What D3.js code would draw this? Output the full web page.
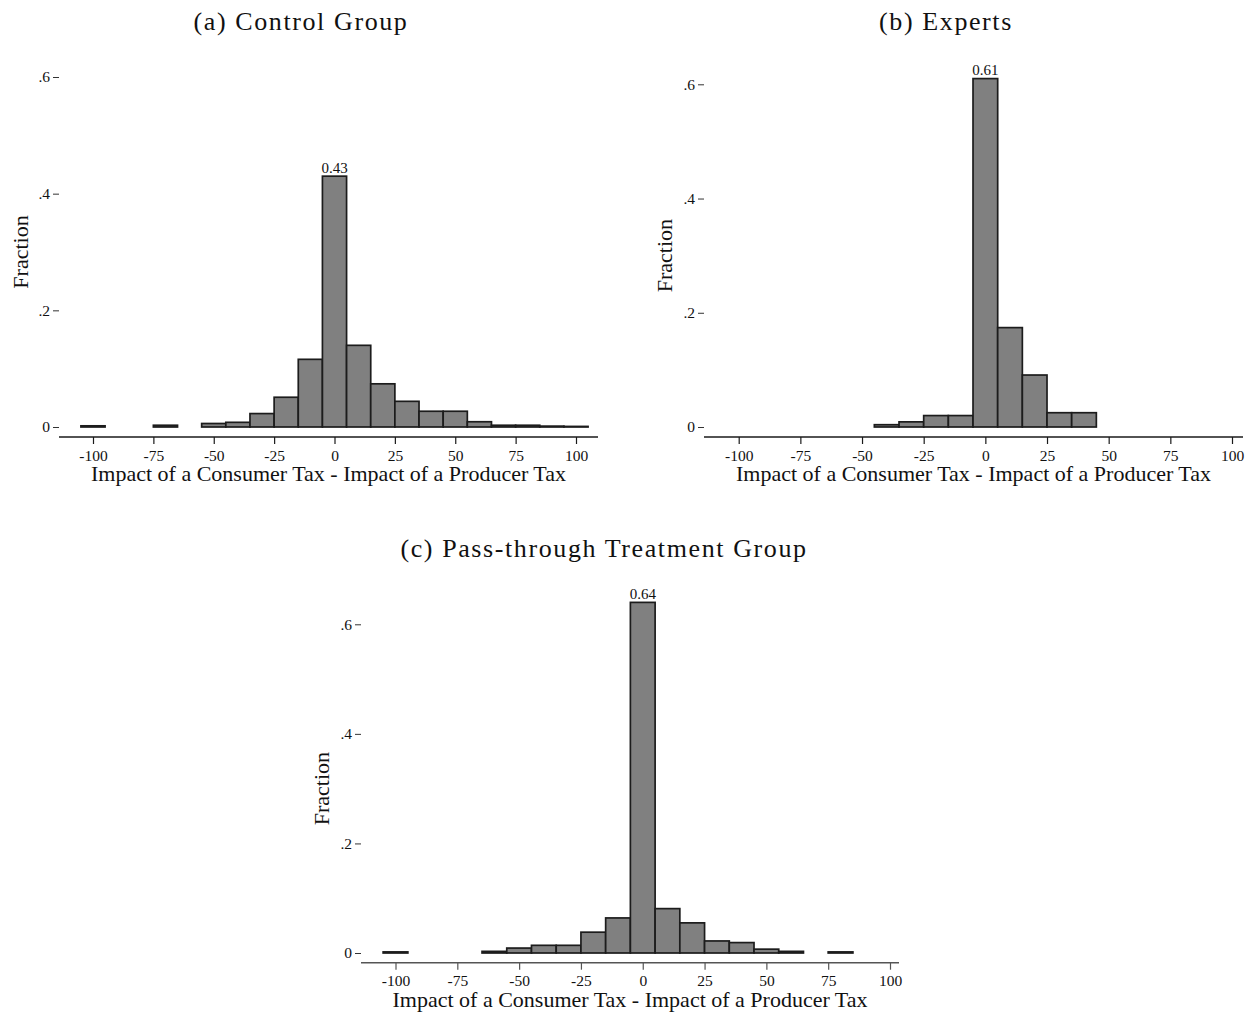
<!DOCTYPE html>
<html>
<head>
<meta charset="utf-8">
<script src="https://cdn.jsdelivr.net/npm/d3@7"></script>
<style>
  html, body { margin: 0; padding: 0; background: #fff; }
  svg { display: block; }
</style>
</head>
<body>
<svg id="fig" width="1257" height="1015"></svg>
<script>
// Histogram bins: centres of 10-point-wide bins of the difference
const binCenters = [-100, -90, -80, -70, -60, -50, -40, -30, -20, -10, 0,
                    10, 20, 30, 40, 50, 60, 70, 80, 90, 100];
const binWidth = 10;

// Fraction of respondents in each bin
const controlShares = [0.002, 0, 0, 0.003, 0, 0.006, 0.008, 0.023, 0.051, 0.116, 0.43,
                       0.140, 0.074, 0.044, 0.027, 0.027, 0.009, 0.003, 0.003, 0.0015, 0.001];
const expertShares  = [0, 0, 0, 0, 0, 0, 0.004, 0.009, 0.020, 0.020, 0.61,
                       0.174, 0.091, 0.025, 0.025, 0, 0, 0, 0, 0, 0];
const passThroughShares = [0.002, 0, 0, 0, 0.003, 0.009, 0.014, 0.014, 0.038, 0.064, 0.64,
                           0.081, 0.055, 0.022, 0.019, 0.007, 0.003, 0, 0.002, 0, 0];

const panelTitles = ["(a) Control Group", "(b) Experts", "(c) Pass-through Treatment Group"];
const xTicks = [-100, -75, -50, -25, 0, 25, 50, 75, 100];
const xTickLabels = ["-100", "-75", "-50", "-25", "0", "25", "50", "75", "100"];
const yTicks = [0, 0.2, 0.4, 0.6];
const yTickLabels = ["0", ".2", ".4", ".6"];
const xTitle = "Impact of a Consumer Tax - Impact of a Producer Tax";
const yTitle = "Fraction";

// Panel geometry (pixel frame of each histogram)
const panels = [
  { values: controlShares, title: panelTitles[0], titleX: 301, titleY: 30,
    lineL: 59, lineR: 598, xLo: 93, xHi: 576, y0: 427, y6: 77, axisY: 437,
    yTitleX: 28, axisColor: "#1a1a1a" },
  { values: expertShares, title: panelTitles[1], titleX: 946, titleY: 30,
    lineL: 704, lineR: 1243, xLo: 738.7, xHi: 1232, y0: 427, y6: 84.3, axisY: 437,
    yTitleX: 672, axisColor: "#1a1a1a" },
  { values: passThroughShares, title: panelTitles[2], titleX: 604, titleY: 557,
    lineL: 361, lineR: 899, xLo: 395.5, xHi: 890, y0: 953, y6: 624.3, axisY: 962.7,
    yTitleX: 329, axisColor: "#555" }
];

const svg = d3.select("#fig");
const serif = "'Liberation Serif', 'Times New Roman', Times, serif";

panels.forEach(p => {
  const g = svg.append("g");
  const x = d3.scaleLinear().domain([-100, 100]).range([p.xLo, p.xHi]);
  const y = d3.scaleLinear().domain([0, 0.6]).range([p.y0, p.y6]);

  // panel caption
  g.append("text")
    .attr("x", p.titleX).attr("y", p.titleY)
    .attr("text-anchor", "middle")
    .style("font-family", serif).style("font-size", "26px")
    .style("letter-spacing", "1.6px")
    .attr("fill", "#111")
    .text(p.title);

  // bars
  const data = binCenters.map((c, i) => ({ c, v: p.values[i] })).filter(d => d.v > 0);
  g.selectAll("rect.bar").data(data).join("rect")
    .attr("class", "bar")
    .attr("x", d => x(d.c - binWidth / 2))
    .attr("width", d => x(d.c + binWidth / 2) - x(d.c - binWidth / 2))
    .attr("y", d => y(d.v))
    .attr("height", d => y(0) - y(d.v))
    .attr("fill", "#808080")
    .attr("stroke", "#1c1c1c")
    .attr("stroke-width", 1.7);

  // label on the tallest bar
  const top = data.reduce((a, b) => (b.v > a.v ? b : a));
  g.append("text")
    .attr("x", x(top.c)).attr("y", y(top.v) - 3.5)
    .attr("text-anchor", "middle")
    .style("font-family", serif).style("font-size", "15px")
    .attr("fill", "#111")
    .text(d3.format(".2f")(top.v));

  // x axis
  const xa = g.append("g").attr("transform", `translate(0,${p.axisY})`);
  xa.call(d3.axisBottom(x).tickValues(xTicks).tickSize(7).tickSizeOuter(0)
            .tickFormat((d, i) => xTickLabels[i]));
  xa.select(".domain").remove();
  xa.append("line")
    .attr("x1", p.lineL).attr("x2", p.lineR)
    .attr("stroke", p.axisColor).attr("stroke-width", 1.6);
  xa.selectAll(".tick line").attr("stroke", p.axisColor).attr("stroke-width", 1.2);
  xa.selectAll(".tick text")
    .attr("y", 23.5).attr("dy", null)
    .style("font-family", serif).style("font-size", "15.5px")
    .attr("fill", "#111");

  // y axis (ticks only, no spine)
  const ya = g.append("g").attr("transform", `translate(${p.lineL},0)`);
  ya.call(d3.axisLeft(y).tickValues(yTicks).tickSize(6).tickPadding(3)
            .tickFormat((d, i) => yTickLabels[i]));
  ya.select(".domain").remove();
  ya.selectAll(".tick line").attr("stroke", "#333").attr("stroke-width", 1);
  ya.selectAll(".tick text")
    .style("font-family", serif).style("font-size", "15.5px")
    .attr("fill", "#111");

  // axis titles
  g.append("text")
    .attr("x", (p.lineL + p.lineR) / 2).attr("y", p.axisY + 44)
    .attr("text-anchor", "middle")
    .style("font-family", serif).style("font-size", "22px")
    .attr("fill", "#111")
    .text(xTitle);

  g.append("text")
    .attr("transform", `translate(${p.yTitleX},${(p.y0 + p.y6) / 2}) rotate(-90)`)
    .attr("text-anchor", "middle")
    .style("font-family", serif).style("font-size", "22px")
    .attr("fill", "#111")
    .text(yTitle);
});
</script>
</body>
</html>
